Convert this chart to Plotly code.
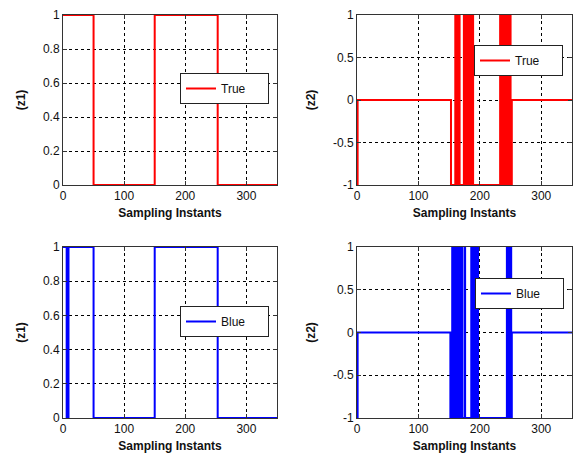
import plotly.graph_objects as go

# ---- tick labels ----
x_ticks = [0, 100, 200, 300]
x_ticktext = ["0", "100", "200", "300"]
z1_ticks = [0, 0.2, 0.4, 0.6, 0.8, 1]
z1_ticktext = ["0", "0.2", "0.4", "0.6", "0.8", "1"]
z2_ticks = [-1, -0.5, 0, 0.5, 1]
z2_ticktext = ["-1", "-0.5", "0", "0.5", "1"]

# ---- series (switch instants, value held until next instant) ----
true_z1_x = [0, 50, 150, 253, 350]
true_z1_y = [1, 0, 1, 0, 0]

true_z2_x = [0, 1, 153,
             160, 161, 162, 163, 164, 165, 166, 167,
             174, 175, 176, 177, 178, 179, 180, 181, 182, 183, 184, 185,
             188, 189,
             233, 234, 235, 236, 237, 238, 239, 240, 241, 242, 243, 244,
             246, 247, 249, 250, 252, 350]
true_z2_y = [-1, 0, -1,
             1, -1, 1, -1, 1, -1, 1, -1,
             1, -1, 1, -1, 1, -1, 1, -1, 1, -1, 1, -1,
             1, -1,
             1, -1, 1, -1, 1, -1, 1, -1, 1, -1, 1, -1,
             1, -1, 1, -1, 0, 0]

blue_z1_x = [0, 6, 7, 8, 9, 50, 150, 253, 350]
blue_z1_y = [1, 0, 1, 0, 1, 0, 1, 0, 0]

blue_z2_x = [0, 1, 152,
             155, 156, 157, 158, 159, 160, 161, 162, 163, 164, 165, 166, 167, 168,
             170, 171, 175, 176,
             186, 187, 188, 189, 190, 191, 192, 193, 194, 195, 196, 197, 198,
             244, 245, 246, 247, 248, 249, 250, 251, 252, 350]
blue_z2_y = [-1, 0, -1,
             1, -1, 1, -1, 1, -1, 1, -1, 1, -1, 1, -1, 1, -1,
             1, -1, 1, -1,
             1, -1, 1, -1, 1, -1, 1, -1, 1, -1, 1, -1, -1,
             1, -1, 1, -1, 1, -1, 1, -1, 0, 0]

W, H = 574, 457
FONT = "Liberation Sans, Arial, sans-serif"

fig = go.Figure()

panels = [
    ("x", "y", true_z1_x, true_z1_y, "True", "#ff0000", "legend"),
    ("x2", "y2", true_z2_x, true_z2_y, "True", "#ff0000", "legend2"),
    ("x3", "y3", blue_z1_x, blue_z1_y, "Blue", "#0000ff", "legend3"),
    ("x4", "y4", blue_z2_x, blue_z2_y, "Blue", "#0000ff", "legend4"),
]
for xa, ya, xs, ys, name, col, lg in panels:
    fig.add_trace(go.Scatter(x=xs, y=ys, mode="lines", name=name,
                             line=dict(color=col, width=2, shape="hv"),
                             xaxis=xa, yaxis=ya, legend=lg, showlegend=True))

def px_dom_x(a, b):
    return [a / W, b / W]

def px_dom_y(top, bottom):
    return [(H - bottom) / H, (H - top) / H]

common = dict(showline=True, linecolor="#333", linewidth=1, mirror="ticks",
              ticks="inside", ticklen=4, tickcolor="#333", automargin=False,
              showgrid=True, gridcolor="#000", gridwidth=1, griddash="3px,3px",
              zeroline=False, tickfont=dict(family=FONT, size=12, color="#111"))

def xax(dom, anchor):
    return dict(common, domain=dom, anchor=anchor, range=[0, 350],
                tickvals=x_ticks, ticktext=x_ticktext,
                title=dict(text="Sampling Instants", standoff=6,
                           font=dict(family=FONT, size=12, color="#111", weight="bold")))

def yax(dom, anchor, z):
    if z == 1:
        rng, tv, tt, t = [0, 1], z1_ticks, z1_ticktext, "(z1)"
    else:
        rng, tv, tt, t = [-1, 1], z2_ticks, z2_ticktext, "(z2)"
    return dict(common, domain=dom, anchor=anchor, range=rng,
                tickvals=tv, ticktext=tt,
                title=dict(text=t, standoff=14,
                           font=dict(family=FONT, size=12, color="#111", weight="bold")))

L = px_dom_x(63, 277)
R = px_dom_x(357, 572)
T = px_dom_y(15, 185)
B = px_dom_y(247, 418)

def legend(xp, yp):
    return dict(x=xp / W, y=(H - yp) / H, xanchor="left", yanchor="top",
                bgcolor="white", bordercolor="#222", borderwidth=1,
                font=dict(family=FONT, size=12, color="#111"),
                orientation="h", entrywidth=42, entrywidthmode="pixels",
                itemwidth=30, tracegroupgap=0, valign="middle")

fig.update_layout(
    width=W, height=H, margin=dict(l=0, r=0, t=0, b=0, autoexpand=False),
    paper_bgcolor="white", plot_bgcolor="white",
    xaxis=xax(L, "y"), yaxis=yax(T, "x", 1),
    xaxis2=xax(R, "y2"), yaxis2=yax(T, "x2", 2),
    xaxis3=xax(L, "y3"), yaxis3=yax(B, "x3", 1),
    xaxis4=xax(R, "y4"), yaxis4=yax(B, "x4", 2),
    legend=legend(180, 73), legend2=legend(474, 45),
    legend3=legend(180, 306), legend4=legend(475, 278),
)

fig.write_html("out.html")
